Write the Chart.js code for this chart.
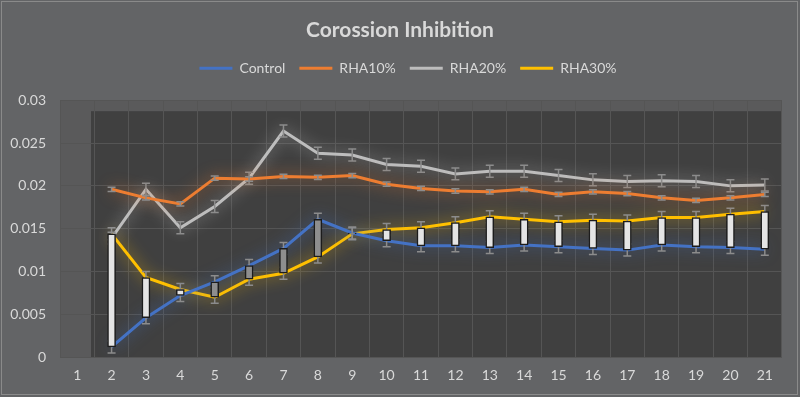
<!DOCTYPE html>
<html>
<head>
<meta charset="utf-8">
<script src="https://cdn.jsdelivr.net/npm/chart.js@4/dist/chart.umd.min.js"></script>
<style>
  html, body { margin: 0; padding: 0; background: #636466; }
  #wrap { width: 800px; height: 397px; }
</style>
</head>
<body>
<div id="wrap"><canvas id="chart" width="800" height="397"></canvas></div>
<script>
// chart values
var labels = ['1','2','3','4','5','6','7','8','9','10','11','12','13','14','15','16','17','18','19','20','21'];
var control = [null, 0.0012, 0.0046, 0.0072, 0.0088, 0.0107, 0.0127, 0.0161, 0.0145, 0.0136, 0.0130, 0.0130, 0.0128, 0.0131, 0.0129, 0.0127, 0.0125, 0.0131, 0.0129, 0.0128, 0.0126];
var rha10 = [null, 0.0196, 0.0186, 0.0179, 0.0209, 0.0208, 0.0211, 0.0210, 0.0212, 0.0202, 0.0197, 0.0194, 0.0193, 0.0196, 0.0190, 0.0193, 0.0191, 0.0186, 0.0183, 0.0186, 0.0190];
var rha20 = [null, 0.0139, 0.0196, 0.0151, 0.0176, 0.0209, 0.0264, 0.0238, 0.0236, 0.0225, 0.0223, 0.0214, 0.0217, 0.0217, 0.0212, 0.0207, 0.0205, 0.0206, 0.0205, 0.0200, 0.0201];
var rha30 = [null, 0.0144, 0.0093, 0.0079, 0.0070, 0.0091, 0.0098, 0.0117, 0.0144, 0.0149, 0.0151, 0.0157, 0.0164, 0.0161, 0.0158, 0.0160, 0.0159, 0.0163, 0.0163, 0.0167, 0.0170];
// error bar size per series
var errControl = 0.0007;
var errRha10 = 0.00025;
var errRha20 = 0.0007;
var errRha30 = 0.0007;

var textColor = '#d9d9d9';

// up/down bars between Control and RHA30%
var updown = control.map(function (c, i) {
    if (c === null) return null;
    return [c, rha30[i]];
});
var updownColors = control.map(function (c, i) {
    return rha30[i] > c ? '#e4e4e4' : '#8e8e8e';
});

function hexAlpha(hex, a) {
    var n = parseInt(hex.slice(1), 16);
    return 'rgba(' + (n >> 16) + ',' + ((n >> 8) & 255) + ',' + (n & 255) + ',' + a + ')';
}

// lighter side/top wall and dark back wall like the excel 3d look
var wallPlugin = {
    id: 'walls',
    beforeDraw: function (chart) {
        var ctx = chart.ctx, a = chart.chartArea;
        ctx.save();
        ctx.strokeStyle = '#8a8a8a';
        ctx.lineWidth = 1;
        ctx.strokeRect(1.5, 1.5, chart.width - 4, chart.height - 4);
        ctx.fillStyle = '#5a5a5b';
        ctx.fillRect(a.left, a.top, a.right - a.left, a.bottom - a.top);
        ctx.fillStyle = '#404040';
        ctx.fillRect(a.left + 31, a.top + 11, a.right - a.left - 31, a.bottom - a.top - 11);
        ctx.restore();
    }
};

// shift a box sideways when it draws
function nudge(box, dx) {
    var draw = box.draw;
    box.draw = function () {
        var c = this.ctx;
        c.save();
        c.translate(dx, 0);
        draw.apply(this, arguments);
        c.restore();
    };
}

// more room under the legend, and centre title + legend on the page
var legendTweak = {
    id: 'legendTweak',
    beforeLayout: function (chart) {
        var lg = chart.legend;
        if (!lg || lg._tweaked) return;
        lg._tweaked = true;
        var fit = lg.fit;
        lg.fit = function () { fit.call(this); this.height += 15; };
        nudge(lg, 17);
        if (chart.titleBlock) nudge(chart.titleBlock, 9);
    }
};

// glow under the lines and error bars on top of them
var glowPlugin = {
    id: 'glow',
    beforeDatasetDraw: function (chart, args) {
        var ds = chart.data.datasets[args.index];
        if (ds.type === 'bar') return;
        var ctx = chart.ctx;
        ctx.save();
        ctx.shadowColor = hexAlpha(ds.borderColor, 0.8);
        ctx.shadowBlur = 15;
    },
    afterDatasetDraw: function (chart, args) {
        var ds = chart.data.datasets[args.index];
        if (ds.type === 'bar') return;
        var ctx = chart.ctx;
        ctx.restore();
        var x = chart.scales.x, y = chart.scales.y;
        ctx.save();
        ctx.strokeStyle = '#8c8c8c';
        ctx.lineWidth = 1.5;
        ds.data.forEach(function (v, i) {
            if (v === null) return;
            var px = x.getPixelForValue(i);
            var top = y.getPixelForValue(v + ds.err);
            var bot = y.getPixelForValue(v - ds.err);
            ctx.beginPath();
            ctx.moveTo(px, top); ctx.lineTo(px, bot);
            ctx.moveTo(px - 4, top); ctx.lineTo(px + 4, top);
            ctx.moveTo(px - 4, bot); ctx.lineTo(px + 4, bot);
            ctx.stroke();
        });
        ctx.restore();
    }
};

function lineSet(label, data, color, err) {
    return {
        type: 'line', label: label, data: data, err: err,
        borderColor: color, backgroundColor: color,
        borderWidth: 3, pointRadius: 0, tension: 0, fill: false
    };
}

var ctx = document.getElementById('chart').getContext('2d');
var chart = new Chart(ctx, {
    type: 'line',
    data: {
        labels: labels,
        datasets: [
            lineSet('Control', control, '#4472c4', errControl),
            lineSet('RHA10%', rha10, '#ed7d31', errRha10),
            lineSet('RHA20%', rha20, '#bdbdbd', errRha20),
            lineSet('RHA30%', rha30, '#ffc000', errRha30),
            {
                type: 'bar', label: 'updown', data: updown, order: -1,
                backgroundColor: updownColors, borderColor: '#1c1c1c',
                borderWidth: 1.5, borderSkipped: false, barThickness: 8
            }
        ]
    },
    options: {
        responsive: false,
        animation: false,
        layout: { padding: { left: 0, right: 18, top: 0, bottom: 3 } },
        plugins: {
            title: {
                display: true,
                text: 'Corossion Inhibition',
                color: textColor,
                font: { family: 'Lato', size: 21, weight: 'bold' },
                padding: { top: 18, bottom: 4 }
            },
            legend: {
                display: true,
                labels: {
                    color: textColor,
                    font: { family: 'Lato', size: 14 },
                    boxWidth: 33,
                    boxHeight: 3,
                    padding: 14,
                    filter: function (item) { return item.datasetIndex < 4; },
                    generateLabels: function (chart) {
                        var items = Chart.defaults.plugins.legend.labels.generateLabels(chart);
                        items.forEach(function (it) {
                            it.lineWidth = 0;
                            it.fillStyle = chart.data.datasets[it.datasetIndex].borderColor;
                        });
                        return items;
                    }
                }
            },
            tooltip: { enabled: false }
        },
        scales: {
            x: {
                offset: true,
                grid: { offset: true, color: '#555555', lineWidth: 1, drawTicks: false },
                border: { display: false },
                ticks: { color: textColor, font: { family: 'Lato', size: 14 }, padding: 10 }
            },
            y: {
                min: 0, max: 0.03,
                grid: { color: '#555555', lineWidth: 1, drawTicks: false },
                border: { display: false },
                ticks: {
                    stepSize: 0.005, color: textColor, font: { family: 'Lato', size: 14 }, padding: 14,
                    callback: function (v) { return String(parseFloat(v.toFixed(3))); }
                },
                afterFit: function (scale) { scale.width = 60; }
            }
        }
    },
    plugins: [wallPlugin, legendTweak, glowPlugin]
});
</script>
</body>
</html>
